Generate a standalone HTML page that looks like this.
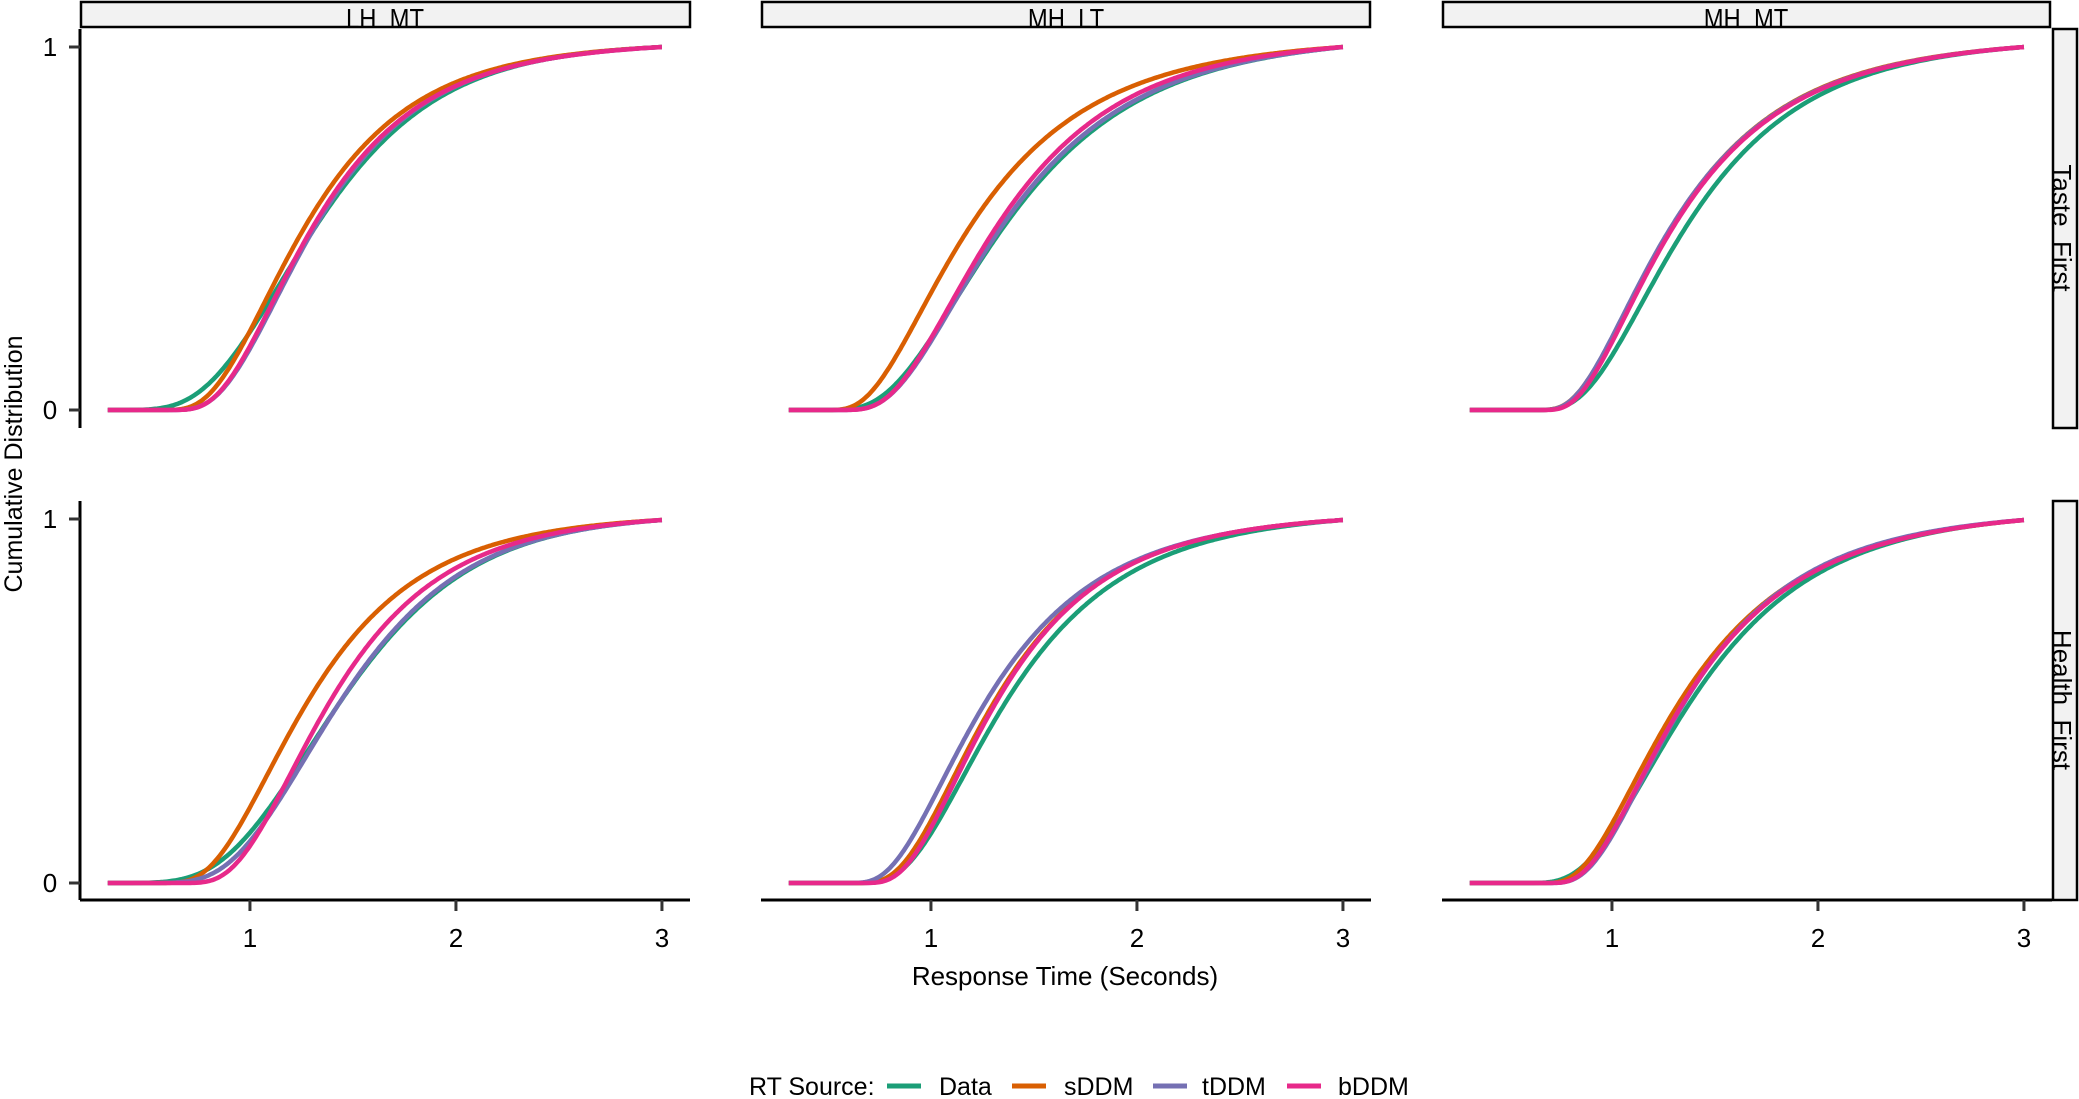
<!DOCTYPE html>
<html><head><meta charset="utf-8">
<style>
html,body{margin:0;padding:0;background:#fff;}
svg{display:block;}
text{font-family:"Liberation Sans",Arial,sans-serif;fill:#000;}
</style></head>
<body>
<svg id="s" width="2079" height="1099" viewBox="0 0 2079 1099" xmlns="http://www.w3.org/2000/svg">
<defs>
<clipPath id="ct0"><rect x="81" y="3" width="609" height="24"/></clipPath>
<clipPath id="ct1"><rect x="762" y="3" width="608" height="24"/></clipPath>
<clipPath id="ct2"><rect x="1443" y="3" width="607" height="24"/></clipPath>
<clipPath id="cr0"><rect x="2054" y="30" width="23" height="398"/></clipPath>
<clipPath id="cr1"><rect x="2054" y="502" width="23" height="398"/></clipPath>
</defs>
<g id="curves"></g>
<rect x="81" y="2" width="609" height="25" fill="#f2f2f2" stroke="#000" stroke-width="2.5"/>
<rect x="762" y="2" width="608" height="25" fill="#f2f2f2" stroke="#000" stroke-width="2.5"/>
<rect x="1443" y="2" width="607" height="25" fill="#f2f2f2" stroke="#000" stroke-width="2.5"/>
<g clip-path="url(#ct0)"><text transform="translate(385,28) scale(0.85,1)" font-size="28" text-anchor="middle">LH_MT</text></g>
<g clip-path="url(#ct1)"><text transform="translate(1066,28) scale(0.85,1)" font-size="28" text-anchor="middle">MH_LT</text></g>
<g clip-path="url(#ct2)"><text transform="translate(1746,28) scale(0.85,1)" font-size="28" text-anchor="middle">MH_MT</text></g>
<rect x="2053" y="29" width="24" height="399" fill="#f2f2f2" stroke="#000" stroke-width="2.5"/>
<rect x="2053" y="501" width="24" height="399" fill="#f2f2f2" stroke="#000" stroke-width="2.5"/>
<g clip-path="url(#cr0)"><text transform="translate(2053,228) rotate(90)" font-size="26" text-anchor="middle">Taste_First</text></g>
<g clip-path="url(#cr1)"><text transform="translate(2053,700) rotate(90)" font-size="26" text-anchor="middle">Health_First</text></g>
<line x1="80" y1="29" x2="80" y2="428" stroke="#000" stroke-width="3"/>
<line x1="80" y1="501" x2="80" y2="900" stroke="#000" stroke-width="3"/>
<g stroke="#333" stroke-width="3">
<line x1="69" y1="47" x2="80" y2="47"/><line x1="69" y1="410" x2="80" y2="410"/>
<line x1="69" y1="519" x2="80" y2="519"/><line x1="69" y1="883" x2="80" y2="883"/>
</g>
<g font-size="26" text-anchor="middle">
<text x="50" y="56">1</text><text x="50" y="419">0</text>
<text x="50" y="528">1</text><text x="50" y="892">0</text>
</g>
<text transform="translate(22,464) rotate(-90)" font-size="25" text-anchor="middle">Cumulative Distribution</text>
<g id="xaxes"></g>
<text x="1065" y="985" font-size="26" text-anchor="middle">Response Time (Seconds)</text>
<g font-size="25">
<text x="749" y="1095">RT Source:</text>
<line x1="887" y1="1086" x2="921" y2="1086" stroke="#1b9e77" stroke-width="5"/>
<text x="939" y="1095">Data</text>
<line x1="1012" y1="1086" x2="1046" y2="1086" stroke="#d95f02" stroke-width="5"/>
<text x="1064" y="1095">sDDM</text>
<line x1="1153" y1="1086" x2="1187" y2="1086" stroke="#7570b3" stroke-width="5"/>
<text x="1202" y="1095">tDDM</text>
<line x1="1287" y1="1086" x2="1321" y2="1086" stroke="#e7298a" stroke-width="5"/>
<text x="1338" y="1095">bDDM</text>
</g>
</svg>
<script>
(function(){
var NS="http://www.w3.org/2000/svg";
function erf(x){var s=x<0?-1:1;x=Math.abs(x);var t=1/(1+0.3275911*x);
var y=1-(((((1.061405429*t-1.453152027)*t)+1.421413741)*t-0.284496736)*t+0.254829592)*t*Math.exp(-x*x);return s*y;}
function Phi(z){return 0.5*(1+erf(z/Math.SQRT2));}
function mk(q){var a=q[0],b=q[1],c=q[2];var s=(a*c-b*b)/(a+c-2*b);
if(!(s<a-0.4))s=a-0.4;var m=b-s;var sg=Math.log((c-s)/m)/1.2816;
return function(t){if(t<=s)return 0;return Phi((Math.log(t-s)-Math.log(m))/sg);};}
var cols=["#1b9e77","#d95f02","#7570b3","#e7298a"];
var P=[
[[0.85,1.32,2.1],[0.9,1.27,2.05],[0.93,1.32,2.1],[0.95,1.31,2.1]],
[[0.88,1.37,2.35],[0.85,1.20,2.15],[0.9,1.36,2.35],[0.9,1.33,2.25]],
[[0.95,1.37,2.25],[1.0,1.30,2.2],[1.01,1.30,2.22],[1.03,1.31,2.23]],
[[0.94,1.45,2.25],[0.89,1.29,2.1],[0.98,1.45,2.25],[1.0,1.40,2.2]],
[[0.97,1.38,2.25],[0.98,1.32,2.15],[0.95,1.28,2.15],[1.02,1.33,2.15]],
[[0.95,1.40,2.3],[1.02,1.35,2.3],[1.04,1.37,2.25],[1.05,1.37,2.3]]
];
var g=document.getElementById("curves");
var X0=[80,761,1442],Y0=[410,883],H=363;
for(var p=0;p<6;p++){var col=p%3,row=Math.floor(p/3);
 for(var k=0;k<4;k++){var f=mk(P[p][k]);var tmax=3.0;var F3=f(tmax);var d="";
  for(var t=0.31;t<=tmax+1e-9;t+=0.01){var v=f(t)/F3;if(v>1)v=1;
   var x=X0[col]+(t-0.175)*206,y=Y0[row]-v*H;d+=(d?"L":"M")+x.toFixed(1)+","+y.toFixed(1);}
  var pa=document.createElementNS(NS,"path");pa.setAttribute("d",d);pa.setAttribute("fill","none");
  pa.setAttribute("stroke",cols[k]);pa.setAttribute("stroke-width","4.5");pa.setAttribute("stroke-linejoin","round");
  g.appendChild(pa);}
}
var xa=document.getElementById("xaxes");
for(var c=0;c<3;c++){var L=document.createElementNS(NS,"line");
 L.setAttribute("x1",X0[c]);L.setAttribute("x2",X0[c]+610);L.setAttribute("y1",900);L.setAttribute("y2",900);
 L.setAttribute("stroke","#000");L.setAttribute("stroke-width","3");xa.appendChild(L);
 for(var i=1;i<=3;i++){var x=X0[c]+(i-0.175)*206;
  var tk=document.createElementNS(NS,"line");tk.setAttribute("x1",x);tk.setAttribute("x2",x);
  tk.setAttribute("y1",900);tk.setAttribute("y2",911);tk.setAttribute("stroke","#333");tk.setAttribute("stroke-width","3");xa.appendChild(tk);
  var tx=document.createElementNS(NS,"text");tx.setAttribute("x",x);tx.setAttribute("y",947);
  tx.setAttribute("font-size","26");tx.setAttribute("text-anchor","middle");tx.textContent=i;xa.appendChild(tx);}
}
})();
</script>
</body></html>
